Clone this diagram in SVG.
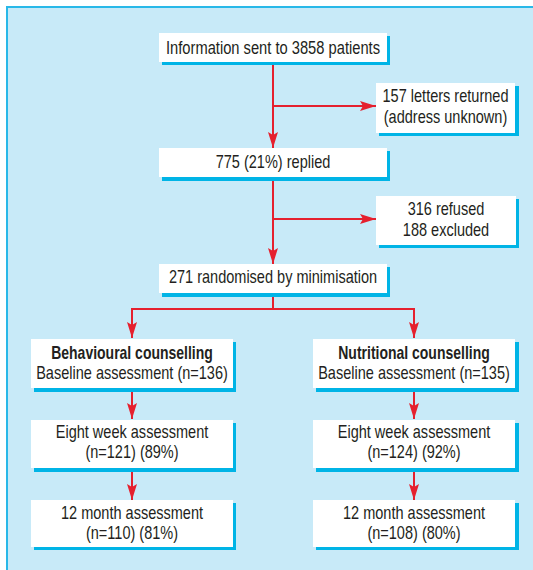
<svg xmlns="http://www.w3.org/2000/svg" width="533" height="570" viewBox="0 0 533 570">
<style>
.box{fill:#ffffff}
.sh{fill:#00b4e6}
.t{font-family:"Liberation Sans",Arial,sans-serif;font-size:17.5px;fill:#231f20;text-anchor:middle}
.b{font-weight:bold}
.c{fill:none;stroke:#e5202e;stroke-width:2}
</style>
<defs>
<marker id="ah" markerUnits="userSpaceOnUse" markerWidth="17" markerHeight="11" viewBox="0 0 17 11" refX="16" refY="5.5" orient="auto">
<path d="M0,0.5 L16,5.5 L0,10.5 L3,5.5 z" fill="#e5202e"/>
</marker>
</defs>
<rect x="7" y="7" width="540" height="580" fill="#c8eaf8" stroke="#29b8e8" stroke-width="2"/>
<g id="connectors">
<path class="c" d="M273,62 V148" marker-end="url(#ah)"/>
<path class="c" d="M273,106 H376" marker-end="url(#ah)"/>
<path class="c" d="M273,177 V264" marker-end="url(#ah)"/>
<path class="c" d="M273,219 H376" marker-end="url(#ah)"/>
<path class="c" d="M273,293 V309 H132 V338" marker-end="url(#ah)"/>
<path class="c" d="M273,309 H414 V338" marker-end="url(#ah)"/>
<path class="c" d="M132,388 V419" marker-end="url(#ah)"/>
<path class="c" d="M414,388 V419" marker-end="url(#ah)"/>
<path class="c" d="M132,468 V500" marker-end="url(#ah)"/>
<path class="c" d="M414,468 V500" marker-end="url(#ah)"/>
</g>
<g id="n-info">
<rect class="sh" x="162" y="36" width="228" height="29"/>
<rect class="box" x="159" y="33" width="228" height="29"/>
<text class="t" transform="translate(273,53.5) scale(0.84,1)">Information sent to 3858 patients</text>
</g>
<g id="n-returned">
<rect class="sh" x="379" y="86" width="140" height="50"/>
<rect class="box" x="376" y="83" width="139" height="50"/>
<text class="t" transform="translate(445.5,102) scale(0.83,1)">157 letters returned</text>
<text class="t" transform="translate(445.5,122.5) scale(0.83,1)">(address unknown)</text>
</g>
<g id="n-replied">
<rect class="sh" x="162" y="151" width="228" height="30"/>
<rect class="box" x="159" y="148" width="228" height="29"/>
<text class="t" transform="translate(273,167.5) scale(0.83,1)">775 (21%) replied</text>
</g>
<g id="n-refused">
<rect class="sh" x="379" y="199" width="140" height="49"/>
<rect class="box" x="376" y="196" width="140" height="49"/>
<text class="t" transform="translate(446,215) scale(0.83,1)">316 refused</text>
<text class="t" transform="translate(446,235.5) scale(0.83,1)">188 excluded</text>
</g>
<g id="n-random">
<rect class="sh" x="162" y="267" width="228" height="30"/>
<rect class="box" x="159" y="264" width="228" height="29"/>
<text class="t" transform="translate(273,282.5) scale(0.83,1)">271 randomised by minimisation</text>
</g>
<g id="n-behav">
<rect class="sh" x="34" y="342" width="202" height="50"/>
<rect class="box" x="31" y="339" width="202" height="49"/>
<text class="t b" transform="translate(132,358.5) scale(0.8,1)">Behavioural counselling</text>
<text class="t" transform="translate(132,378.5) scale(0.83,1)">Baseline assessment (n=136)</text>
</g>
<g id="n-nutri">
<rect class="sh" x="316" y="342" width="203" height="50"/>
<rect class="box" x="313" y="339" width="202" height="49"/>
<text class="t b" transform="translate(414,358.5) scale(0.8,1)">Nutritional counselling</text>
<text class="t" transform="translate(414,378.5) scale(0.83,1)">Baseline assessment (n=135)</text>
</g>
<g id="n-behav8">
<rect class="sh" x="34" y="423" width="202" height="49"/>
<rect class="box" x="31" y="420" width="202" height="48"/>
<text class="t" transform="translate(132,438) scale(0.83,1)">Eight week assessment</text>
<text class="t" transform="translate(132,458) scale(0.83,1)">(n=121) (89%)</text>
</g>
<g id="n-nutri8">
<rect class="sh" x="316" y="423" width="203" height="49"/>
<rect class="box" x="313" y="420" width="202" height="48"/>
<text class="t" transform="translate(414,438) scale(0.83,1)">Eight week assessment</text>
<text class="t" transform="translate(414,458) scale(0.83,1)">(n=124) (92%)</text>
</g>
<g id="n-behav12">
<rect class="sh" x="34" y="503" width="202" height="47"/>
<rect class="box" x="31" y="500" width="202" height="47"/>
<text class="t" transform="translate(132,518.5) scale(0.83,1)">12 month assessment</text>
<text class="t" transform="translate(132,539) scale(0.83,1)">(n=110) (81%)</text>
</g>
<g id="n-nutri12">
<rect class="sh" x="316" y="503" width="203" height="47"/>
<rect class="box" x="313" y="500" width="202" height="47"/>
<text class="t" transform="translate(414,518.5) scale(0.83,1)">12 month assessment</text>
<text class="t" transform="translate(414,539) scale(0.83,1)">(n=108) (80%)</text>
</g>
</svg>
